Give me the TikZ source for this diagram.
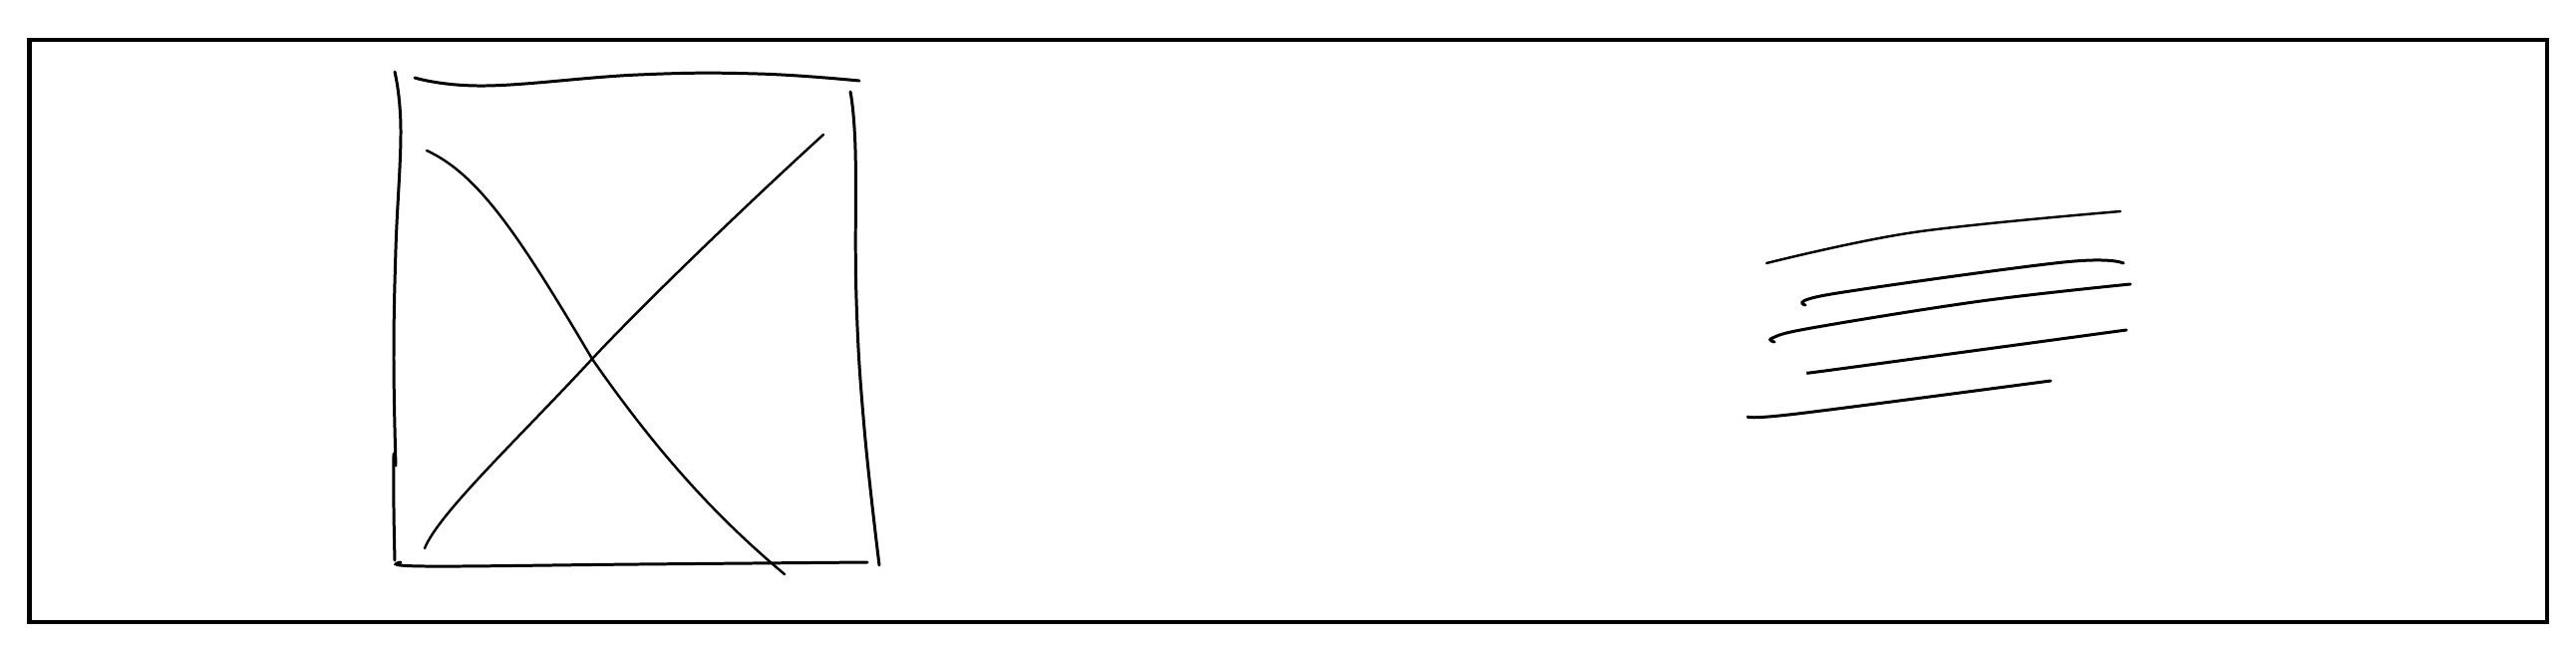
\documentclass[tikz,border=0pt]{standalone}
\begin{document}
\begin{tikzpicture}[x=0.01cm,y=-0.01cm,
  frame/.style={line width=1.15pt,draw=black},
  pen/.style={line width=0.85pt,line cap=round,draw=black},
  thinpen/.style={line width=0.7pt,line cap=round,draw=black}]
\useasboundingbox (0,0) rectangle (2584,648);
\fill[white] (0,0) rectangle (2584,648);
% outer frame
\draw[frame] (29.5,40) rectangle (2555,624);
% sketched box
\draw[pen] plot[smooth,tension=0.7] coordinates {(396,72) (402,130) (397,250) (395,360) (397,467)};
\draw[pen] plot[smooth,tension=0.7] coordinates {(395,455) (395,510) (396,562)};
\draw[pen] plot[smooth,tension=0.7] coordinates {(416,78) (487,86) (640,75) (760,74) (862,81)};
\draw[pen] plot[smooth,tension=0.7] coordinates {(853,92) (858,150) (859,300) (867,430) (882,567)};
\draw[pen] plot[smooth,tension=0.7] coordinates {(402,564) (427,568) (640,566) (870,564)};
% diagonals
\draw[thinpen] (428,151) .. controls (480,175) and (520,235) .. (594,360)
  .. controls (660,455) and (720,520) .. (787,576);
\draw[thinpen] (826,135) .. controls (760,195) and (650,300) .. (594,360)
  .. controls (520,440) and (440,515) .. (426,550);
% scribble lines
\draw[thinpen] plot[smooth,tension=0.6] coordinates {(1772,264) (1920,233) (2127,212)};
\draw[pen] plot[smooth,tension=0.6] coordinates {(1811,306) (1837,295) (2070,263) (2130,264)};
\draw[pen] plot[smooth,tension=0.6] coordinates {(1780,343) (1778,339) (1817,329) (1987,302) (2137,285)};
\draw[pen] plot[smooth,tension=0.6] coordinates {(1814,374) (1853,369) (2133,331)};
\draw[pen] plot[smooth,tension=0.6] coordinates {(1753,418) (1803,415) (2057,382)};
\end{tikzpicture}
\end{document}
